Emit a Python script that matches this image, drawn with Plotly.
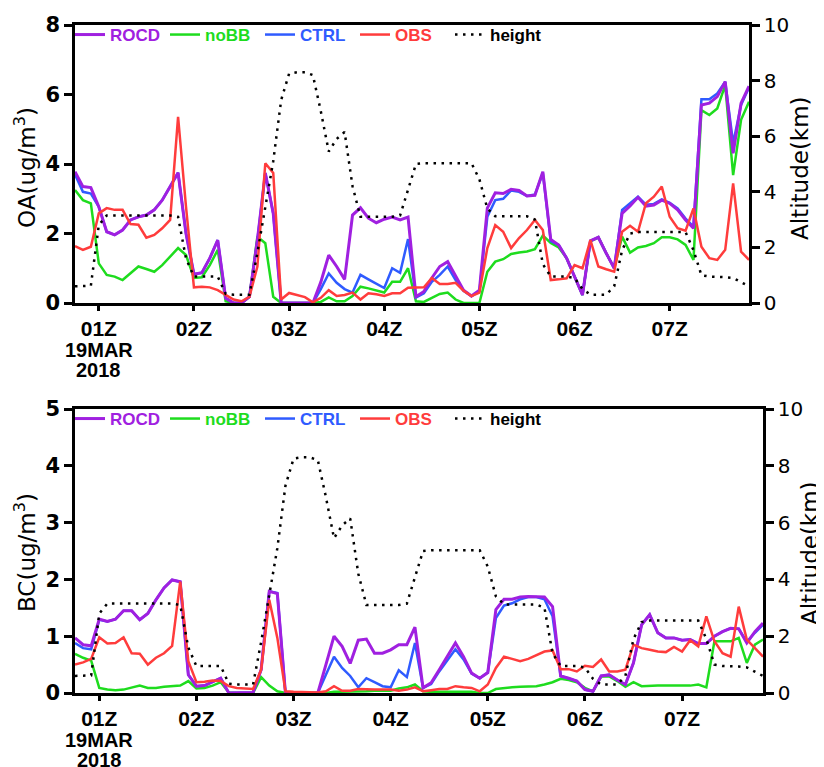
import pandas as pd
import plotly.graph_objects as go

# ---------------- data (5-min samples, 19 MAR 2018) ----------------
time = pd.date_range("2018-03-19 00:45", periods=86, freq="5min")

height_km = [0.6, 0.6, 0.62, 2.8, 3.15, 3.15, 3.15, 3.15, 3.15, 3.15,
             3.15, 3.15, 3.15, 3.1, 1.6, 0.95, 0.95, 0.95, 0.95, 0.33,
             0.3, 0.3, 0.3, 1.8, 3.4, 5.1, 7.3, 8.25, 8.3, 8.3,
             8.2, 6.9, 5.45, 5.9, 6.15, 4.2, 3.1, 3.1, 3.1, 3.1,
             3.1, 3.15, 4.1, 5.0, 5.03, 5.03, 5.03, 5.03, 5.03, 5.03,
             5.03, 4.45, 3.4, 3.12, 3.12, 3.12, 3.12, 3.12, 3.0, 1.4,
             0.95, 0.95, 0.95, 0.9, 0.5, 0.3, 0.3, 0.3, 0.6, 1.9,
             2.5, 2.55, 2.55, 2.55, 2.55, 2.55, 2.55, 2.55, 1.9, 1.0,
             0.95, 0.95, 0.93, 0.9, 0.75, 0.6]

oa_rocd = [3.78, 3.35, 3.32, 2.77, 2.05, 1.96, 2.10, 2.39, 2.48, 2.53,
           2.68, 2.96, 3.35, 3.75, 2.0, 0.83, 0.87, 1.29, 1.81, 0.14,
           0.0, 0.0, 0.18, 1.81, 3.74, 2.58, 0.0, 0.0, 0.0, 0.0,
           0.0, 0.6, 1.38, 1.05, 0.68, 2.53, 2.74, 2.44, 2.31, 2.41,
           2.47, 2.39, 2.47, 0.18, 0.33, 0.72, 1.05, 1.19, 0.76, 0.37,
           0.2, 0.37, 2.73, 3.17, 3.15, 3.27, 3.24, 3.08, 3.1, 3.78,
           1.83, 1.67, 1.29, 0.76, 0.23, 1.79, 1.89, 1.43, 1.0, 2.58,
           2.79, 3.04, 2.79, 2.82, 2.96, 2.87, 2.68, 2.39, 2.15, 5.7,
           5.75, 5.94, 6.37, 4.31, 5.75, 6.24]

oa_nobb = [3.25, 2.96, 2.87, 1.14, 0.81, 0.76, 0.66, 0.86, 1.05, 0.98,
           0.9, 1.09, 1.33, 1.58, 1.38, 0.72, 0.74, 1.09, 1.53, 0.05,
           0.0, 0.0, 0.18, 1.91, 1.72, 0.18, 0.0, 0.0, 0.0, 0.0,
           0.0, 0.03, 0.16, 0.05, 0.05, 0.2, 0.47, 0.42, 0.37, 0.3,
           0.61, 0.61, 1.0, 0.05, 0.03, 0.14, 0.26, 0.3, 0.1, 0.0,
           0.0, 0.0, 0.9, 1.19, 1.26, 1.41, 1.45, 1.48, 1.55, 1.94,
           1.73, 1.6, 1.29, 0.76, 0.23, 1.77, 1.89, 1.43, 1.0, 1.91,
           1.45, 1.6, 1.64, 1.72, 1.89, 1.89, 1.83, 1.67, 1.24, 5.55,
           5.41, 5.6, 6.27, 3.68, 5.27, 5.79]

oa_ctrl = [3.7, 3.2, 3.15, 2.77, 2.05, 1.96, 2.10, 2.39, 2.48, 2.53,
           2.68, 2.96, 3.35, 3.75, 2.0, 0.83, 0.87, 1.29, 1.81, 0.14,
           0.0, 0.0, 0.18, 1.81, 3.74, 2.58, 0.0, 0.0, 0.0, 0.0,
           0.0, 0.4, 0.85, 0.58, 0.4, 0.3, 0.81, 0.68, 0.55, 0.43,
           1.0, 0.87, 1.84, 0.16, 0.28, 0.61, 0.81, 1.05, 0.66, 0.35,
           0.2, 0.33, 2.48, 2.96, 3.0, 3.24, 3.2, 3.08, 3.12, 3.74,
           1.78, 1.67, 1.29, 0.76, 0.23, 1.79, 1.89, 1.43, 1.0, 2.68,
           2.87, 3.06, 2.83, 2.85, 2.98, 2.88, 2.72, 2.43, 2.2, 5.86,
           5.86, 6.03, 6.37, 4.6, 5.7, 6.2]

oa_obs = [1.64, 1.53, 1.62, 2.58, 2.73, 2.68, 2.68, 2.27, 2.25, 1.88,
          1.96, 2.15, 2.39, 5.36, 2.77, 0.45, 0.47, 0.45, 0.37, 0.23,
          0.1, 0.05, 0.18, 1.05, 4.02, 3.74, 0.1, 0.29, 0.23, 0.17,
          0.02, 0.15, 0.37, 0.2, 0.23, 0.3, 0.1, 0.28, 0.25, 0.2,
          0.28, 0.28, 0.44, 0.45, 0.45, 0.72, 0.55, 0.55, 0.58, 0.35,
          0.2, 0.3, 1.58, 2.24, 2.05, 1.58, 1.87, 2.1, 2.39, 2.1,
          0.66, 0.68, 0.71, 1.09, 1.0, 1.81, 1.05, 0.97, 0.9, 2.05,
          2.22, 2.05, 2.87, 3.06, 3.35, 2.48, 2.15, 2.08, 2.72, 1.62,
          1.29, 1.24, 1.53, 3.44, 1.48, 1.24]

bc_rocd = [0.97, 0.85, 0.83, 1.3, 1.26, 1.3, 1.45, 1.45, 1.29, 1.4,
           1.64, 1.85, 1.99, 1.96, 0.32, 0.12, 0.13, 0.19, 0.26, 0.0,
           0.0, 0.0, 0.01, 0.41, 1.79, 1.75, 0.0, 0.0, 0.0, 0.0,
           0.0, 0.5, 1.0, 0.82, 0.52, 0.93, 0.95, 0.7, 0.7, 0.76,
           0.85, 0.85, 1.16, 0.09, 0.18, 0.41, 0.64, 0.88, 0.64, 0.35,
           0.26, 0.36, 1.47, 1.65, 1.65, 1.69, 1.7, 1.7, 1.69, 1.52,
           0.3, 0.26, 0.21, 0.06, 0.03, 0.3, 0.32, 0.23, 0.15, 0.53,
           1.2, 1.38, 1.06, 0.97, 0.97, 0.93, 0.94, 0.87, 0.87, 1.0,
           1.08, 1.14, 1.13, 0.88, 1.08, 1.23]

bc_nobb = [0.69, 0.62, 0.57, 0.09, 0.06, 0.05, 0.06, 0.09, 0.13, 0.09,
           0.09, 0.11, 0.12, 0.13, 0.21, 0.08, 0.09, 0.13, 0.19, 0.01,
           0.0, 0.0, 0.0, 0.28, 0.13, 0.03, 0.0, 0.0, 0.0, 0.0,
           0.0, 0.0, 0.02, 0.02, 0.02, 0.02, 0.03, 0.04, 0.04, 0.04,
           0.08, 0.1, 0.15, 0.03, 0.02, 0.02, 0.02, 0.02, 0.02, 0.02,
           0.0, 0.0, 0.07, 0.09, 0.1, 0.11, 0.12, 0.12, 0.15, 0.19,
           0.25, 0.23, 0.19, 0.09, 0.03, 0.29, 0.29, 0.21, 0.11, 0.19,
           0.12, 0.13, 0.13, 0.13, 0.13, 0.13, 0.13, 0.15, 0.1, 0.91,
           0.91, 0.91, 0.97, 0.53, 0.85, 0.94]

bc_ctrl = [0.88, 0.79, 0.77, 1.29, 1.26, 1.3, 1.45, 1.45, 1.29, 1.4,
           1.64, 1.85, 1.99, 1.96, 0.32, 0.12, 0.13, 0.19, 0.26, 0.0,
           0.0, 0.0, 0.01, 0.41, 1.79, 1.76, 0.0, 0.0, 0.0, 0.0,
           0.0, 0.32, 0.64, 0.44, 0.3, 0.1, 0.26, 0.19, 0.12, 0.1,
           0.4, 0.28, 0.88, 0.09, 0.16, 0.38, 0.57, 0.77, 0.59, 0.34,
           0.26, 0.36, 1.32, 1.54, 1.58, 1.65, 1.69, 1.69, 1.65, 1.35,
           0.3, 0.26, 0.21, 0.06, 0.03, 0.3, 0.32, 0.23, 0.15, 0.53,
           1.2, 1.38, 1.06, 0.97, 0.97, 0.93, 0.94, 0.87, 0.87, 1.0,
           1.08, 1.14, 1.13, 0.9, 1.06, 1.2]

bc_obs = [0.5, 0.54, 0.6, 0.98, 0.87, 0.88, 0.98, 0.7, 0.69, 0.5,
          0.62, 0.7, 0.83, 1.96, 0.56, 0.19, 0.2, 0.22, 0.21, 0.12,
          0.09, 0.08, 0.07, 0.41, 1.64, 0.97, 0.03, 0.02, 0.02, 0.01,
          0.01, 0.03, 0.12, 0.04, 0.04, 0.07, 0.06, 0.06, 0.06, 0.06,
          0.04, 0.06, 0.1, 0.03, 0.05, 0.07, 0.07, 0.12, 0.1, 0.09,
          0.03, 0.15, 0.44, 0.64, 0.6, 0.56, 0.6, 0.66, 0.73, 0.75,
          0.42, 0.42, 0.38, 0.48, 0.46, 0.59, 0.38, 0.38, 0.41, 0.85,
          0.79, 0.76, 0.73, 0.72, 0.81, 0.73, 0.93, 0.82, 1.35, 0.91,
          0.7, 0.64, 1.52, 0.94, 0.79, 0.64]

tick_times = ["2018-03-19 01:00", "2018-03-19 02:00", "2018-03-19 03:00",
              "2018-03-19 04:00", "2018-03-19 05:00", "2018-03-19 06:00",
              "2018-03-19 07:00"]
tick_text = ["01Z", "02Z", "03Z", "04Z", "05Z", "06Z", "07Z"]
x_range = ["2018-03-19 00:45", "2018-03-19 07:50"]

# ---------------- styles ----------------
OFF = 8                      # page body margin in the browser
W, H = 824 - OFF, 767 - OFF
C_ROCD = "#a020e0"
C_NOBB = "#1edc1e"
C_CTRL = "#2f5bff"
C_OBS = "#ff3c3c"

def px_x(p):
    return (p - OFF) / W

def px_y(p):
    return 1 - (p - OFF) / H

fig = go.Figure()

def add_panel(xa, ya, ya2, legend, rocd, nobb, ctrl, obs):
    # draw order: height, noBB, CTRL, ROCD, OBS  (legend order kept via legendrank)
    fig.add_trace(go.Scatter(x=time, y=height_km, xaxis=xa, yaxis=ya2, mode="lines",
                             line=dict(color="black", width=2.5, dash="2.5px,5.5px"),
                             name="<span style='color:black'>height</span>",
                             legend=legend, legendrank=5))
    fig.add_trace(go.Scatter(x=time, y=nobb, xaxis=xa, yaxis=ya, mode="lines",
                             line=dict(color=C_NOBB, width=2.5),
                             name=f"<span style='color:{C_NOBB}'>noBB</span>",
                             legend=legend, legendrank=2))
    fig.add_trace(go.Scatter(x=time, y=ctrl, xaxis=xa, yaxis=ya, mode="lines",
                             line=dict(color=C_CTRL, width=2.5),
                             name=f"<span style='color:{C_CTRL}'>CTRL</span>",
                             legend=legend, legendrank=3))
    fig.add_trace(go.Scatter(x=time, y=rocd, xaxis=xa, yaxis=ya, mode="lines",
                             line=dict(color=C_ROCD, width=3),
                             name=f"<span style='color:{C_ROCD}'>ROCD</span>",
                             legend=legend, legendrank=1))
    fig.add_trace(go.Scatter(x=time, y=obs, xaxis=xa, yaxis=ya, mode="lines",
                             line=dict(color=C_OBS, width=2.5),
                             name=f"<span style='color:{C_OBS}'>OBS</span>",
                             legend=legend, legendrank=4))

add_panel("x", "y", "y2", "legend", oa_rocd, oa_nobb, oa_ctrl, oa_obs)
add_panel("x2", "y3", "y4", "legend2", bc_rocd, bc_nobb, bc_ctrl, bc_obs)

axis_common = dict(showline=True, linecolor="black", linewidth=2.5, showgrid=False,
                   zeroline=False, ticks="outside", tickcolor="black", tickwidth=2.5)
xfont = dict(family="Liberation Sans", size=21, color="black", weight="bold")
lfont = dict(family="DejaVu Sans", size=21, color="black", weight="bold")
rfont = dict(family="DejaVu Sans", size=20, color="black")

top_dom_y = [px_y(303), px_y(25)]
bot_dom_y = [px_y(693), px_y(409)]

legend_common = dict(orientation="h", xanchor="left", yanchor="top",
                     bgcolor="rgba(0,0,0,0)", borderwidth=0, itemwidth=30, entrywidth=50,
                     font=dict(family="Liberation Sans", size=17, weight="bold"),
                     traceorder="normal")

fig.update_layout(
    width=W, height=H,
    margin=dict(l=0, r=0, t=0, b=0),
    paper_bgcolor="white", plot_bgcolor="white",
    showlegend=True,
    xaxis=dict(domain=[px_x(75), px_x(749)], anchor="y", type="date", range=x_range,
               tickvals=tick_times, ticktext=tick_text, ticklen=5, mirror=True,
               tickfont=xfont, automargin=False, **axis_common),
    yaxis=dict(domain=top_dom_y, anchor="x", range=[0, 8], dtick=2, ticklen=8,
               mirror=True, tickfont=lfont, automargin=False, **axis_common),
    yaxis2=dict(overlaying="y", anchor="x", side="right", range=[0, 10], dtick=2,
                ticklen=8, tickfont=rfont, automargin=False, **axis_common),
    xaxis2=dict(domain=[px_x(75), px_x(763)], anchor="y3", type="date", range=x_range,
                tickvals=tick_times, ticktext=tick_text, ticklen=5, mirror=True,
                tickfont=xfont, automargin=False, **axis_common),
    yaxis3=dict(domain=bot_dom_y, anchor="x2", range=[0, 5], dtick=1, ticklen=8,
                mirror=True, tickfont=lfont, automargin=False, **axis_common),
    yaxis4=dict(overlaying="y3", anchor="x2", side="right", range=[0, 10], dtick=2,
                ticklen=8, tickfont=rfont, automargin=False, **axis_common),
    legend=dict(x=px_x(70), y=px_y(17), **legend_common),
    legend2=dict(x=px_x(70), y=px_y(401), **legend_common),
)

title_font = dict(family="DejaVu Sans", size=23, color="black")
annots = [
    dict(text="OA(ug/m<sup>3</sup>)", x=px_x(25), y=px_y(168)),
    dict(text="Altitude(km)", x=px_x(800), y=px_y(168)),
    dict(text="BC(ug/m<sup>3</sup>)", x=px_x(25), y=px_y(553)),
    dict(text="Altitude(km)", x=px_x(810), y=px_y(553)),
]
for a in annots:
    fig.add_annotation(xref="paper", yref="paper", showarrow=False, textangle=-90,
                       xanchor="center", yanchor="middle", font=title_font, **a)

date_font = dict(family="Liberation Sans", size=20, color="black", weight="bold")
for xa, y1, y2 in (("x", 350, 370), ("x2", 740, 760)):
    fig.add_annotation(xref=xa, yref="paper", x=tick_times[0], y=px_y(y1), text="19MAR",
                       showarrow=False, font=date_font, xanchor="center", yanchor="middle")
    fig.add_annotation(xref=xa, yref="paper", x=tick_times[0], y=px_y(y2), text="2018",
                       showarrow=False, font=date_font, xanchor="center", yanchor="middle")

fig.write_html("out.html")
